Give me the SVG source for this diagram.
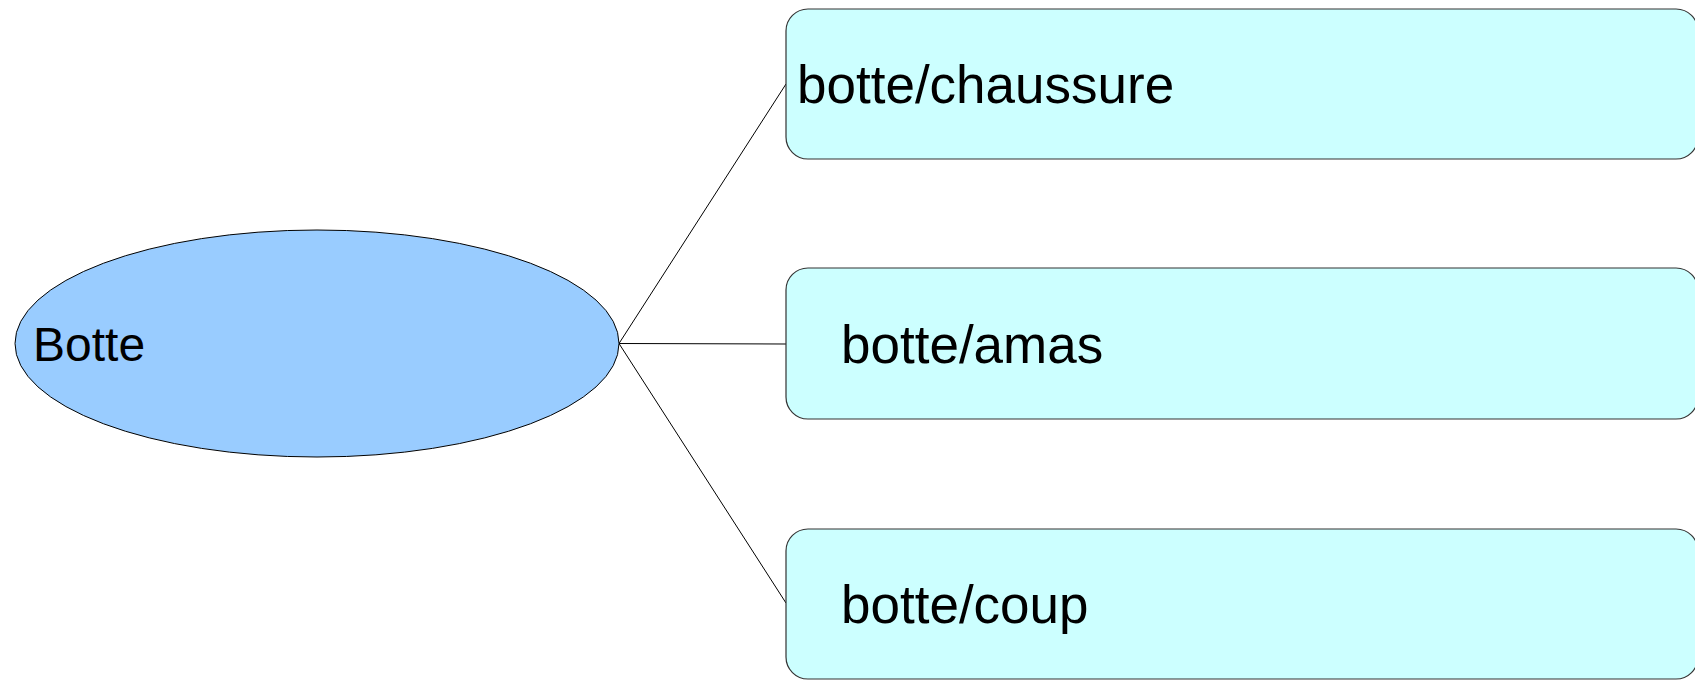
<svg xmlns="http://www.w3.org/2000/svg" width="1695" height="680" viewBox="0 0 1695 680">
<style>
.edge{stroke:#000;stroke-width:1;fill:none}
.box{fill:#ccffff;stroke:#333;stroke-width:1.2}
.ell{fill:#99ccff;stroke:#000;stroke-width:1}
.lbl{font-family:"Liberation Sans",Arial,sans-serif;fill:#000}
</style>
<rect width="1695" height="680" fill="#fff"/>
<g id="connectors">
<line class="edge" x1="619" y1="343.5" x2="786" y2="84"/>
<line class="edge" x1="619" y1="343.5" x2="786" y2="344"/>
<line class="edge" x1="619" y1="343.5" x2="786" y2="603"/>
</g>
<g id="node-botte">
<ellipse class="ell" cx="317" cy="343.5" rx="302" ry="113.5"/>
<text class="lbl" x="33" y="361" font-size="48">Botte</text>
</g>
<g id="node-chaussure">
<rect class="box" x="786" y="9" width="912" height="150" rx="22" ry="22"/>
<text class="lbl" x="797" y="103" font-size="53">botte/chaussure</text>
</g>
<g id="node-amas">
<rect class="box" x="786" y="268" width="912" height="151" rx="22" ry="22"/>
<text class="lbl" x="841" y="363" font-size="53">botte/amas</text>
</g>
<g id="node-coup">
<rect class="box" x="786" y="529" width="912" height="150" rx="22" ry="22"/>
<text class="lbl" x="841" y="623" font-size="53">botte/coup</text>
</g>
</svg>
